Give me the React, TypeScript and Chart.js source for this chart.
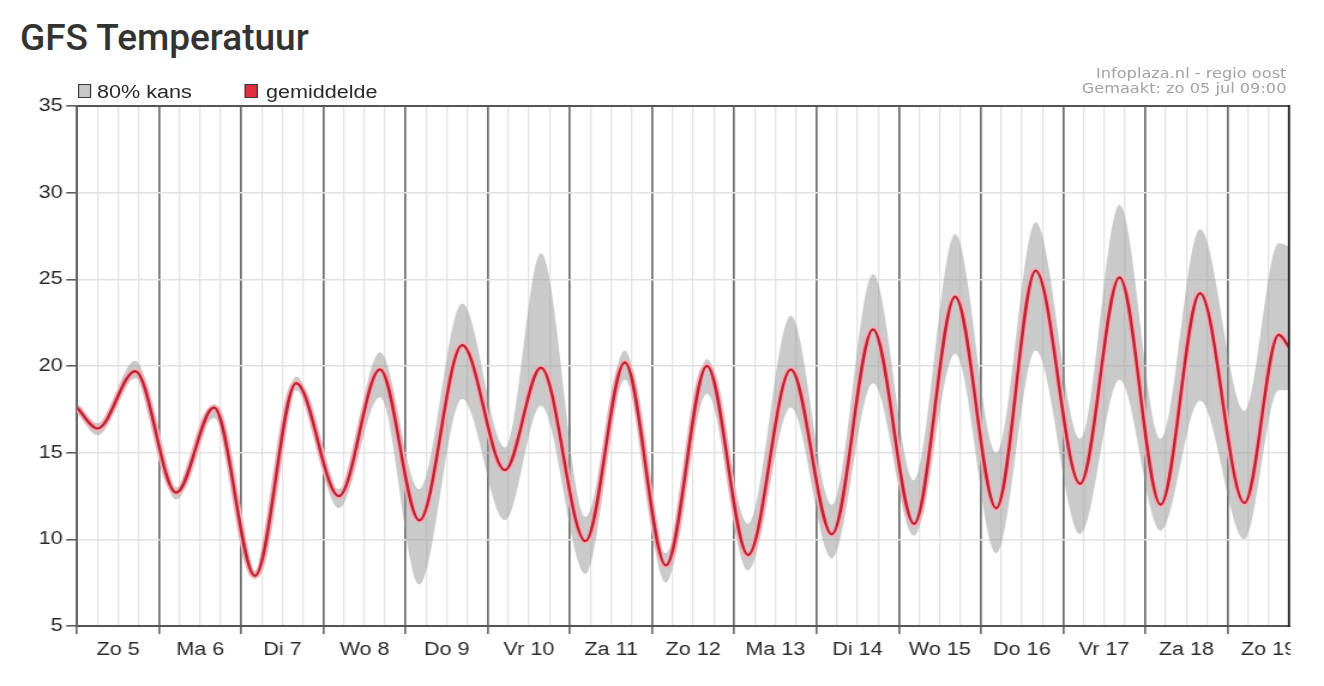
import React, { useEffect, useRef } from "react";
import { Chart, registerables } from "chart.js";

Chart.register(...registerables);

// hours since Sunday 5 July 00:00 (turning points of the mean curve)
const hours = [0, 6, 17, 29, 40, 52, 64, 76.5, 88.5, 100, 112.5, 125, 135.5, 148.5, 160, 172, 184, 196, 208.5, 220.5, 232.5, 244.5, 256.5, 268.5, 280, 293, 304.5, 316.5, 328, 341, 351, 354];

const meanTemp = [17.6, 16.4, 19.7, 12.7, 17.6, 7.9, 19.0, 12.5, 19.8, 11.1, 21.2, 14.0, 19.9, 9.9, 20.2, 8.5, 20.0, 9.1, 19.8, 10.3, 22.1, 10.9, 24.0, 11.8, 25.5, 13.2, 25.1, 12.0, 24.2, 12.1, 21.8, 21.1];

const upper80 = [17.9, 16.7, 20.3, 13.0, 17.8, 8.2, 19.4, 12.9, 20.8, 12.9, 23.6, 15.3, 26.5, 11.3, 20.9, 9.2, 20.4, 10.9, 22.9, 12.0, 25.3, 13.4, 27.6, 15.0, 28.3, 15.8, 29.3, 15.8, 27.9, 17.4, 27.1, 26.9];

const lower80 = [17.3, 16.0, 19.3, 12.3, 17.0, 7.7, 18.6, 11.8, 18.2, 7.4, 18.1, 11.1, 17.7, 8.0, 19.2, 7.5, 18.4, 8.2, 17.6, 8.9, 19.0, 10.2, 20.7, 9.2, 20.9, 10.3, 19.2, 10.5, 18.0, 10.0, 18.6, 18.6];

const dayLabels = ["Zo 5", "Ma 6", "Di 7", "Wo 8", "Do 9", "Vr 10", "Za 11", "Zo 12", "Ma 13", "Di 14", "Wo 15", "Do 16", "Vr 17", "Za 18", "Zo 19"];

const yTicks = [5, 10, 15, 20, 25, 30, 35];

const X_MAX = 354;
const STRETCH = 1324 / 1104;

const toPoints = (vals: number[]) => hours.map((h, i) => ({ x: h, y: vals[i] }));

const isDay = (v: number) => Math.abs(v % 24) < 1e-6;

export default function App() {
  const canvasRef = useRef<HTMLCanvasElement | null>(null);

  useEffect(() => {
    const canvas = canvasRef.current;
    if (!canvas) return;

    const framePlugin = {
      id: "frame",
      afterDraw(chart: any) {
        const { ctx, chartArea } = chart;
        const { left, right, top, bottom } = chartArea;
        ctx.save();
        ctx.strokeStyle = "#555555";
        ctx.lineWidth = 2;
        ctx.beginPath();
        ctx.moveTo(left - 1, top);
        ctx.lineTo(right, top);
        ctx.stroke();
        ctx.strokeStyle = "#1e1e1e";
        ctx.lineWidth = 1.8;
        ctx.beginPath();
        ctx.moveTo(right, top - 1);
        ctx.lineTo(right, bottom + 1);
        ctx.stroke();
        ctx.fillStyle = "#ffffff";
        ctx.fillRect(right + 1.4, bottom + 9, chart.width - right, chart.height - bottom);
        ctx.restore();
      },
    };

    const chart = new Chart(canvas, {
      type: "line",
      data: {
        datasets: [
          {
            label: "gemiddelde",
            data: toPoints(meanTemp),
            borderColor: "#bd2536",
            borderWidth: 2.5,
            fill: false,
          },
          {
            label: "gemiddelde-rand",
            data: toPoints(meanTemp),
            borderColor: "#f5b0b7",
            borderWidth: 6,
            fill: false,
          },
          {
            label: "80% kans",
            data: toPoints(upper80),
            borderColor: "rgba(0,0,0,0)",
            borderWidth: 0,
            backgroundColor: "rgba(150,150,150,0.5)",
            fill: "+1",
          },
          {
            label: "80% kans onder",
            data: toPoints(lower80),
            borderColor: "rgba(0,0,0,0)",
            borderWidth: 0,
            fill: false,
          },
        ],
      },
      options: {
        animation: false,
        responsive: false,
        events: [],
        elements: {
          line: { cubicInterpolationMode: "monotone" },
          point: { radius: 0, hoverRadius: 0 },
        },
        layout: { padding: { top: 46, right: 29.2, left: 0, bottom: 0 } },
        plugins: {
          legend: { display: false },
          tooltip: { enabled: false },
          title: { display: false },
        },
        scales: {
          x: {
            type: "linear",
            min: 0,
            max: X_MAX,
            afterBuildTicks: (scale: any) => {
              const t = [];
              for (let v = 0; v < X_MAX; v += 6) t.push({ value: v });
              scale.ticks = t;
            },
            afterFit: (scale: any) => {
              scale.height = 60;
            },
            grid: {
              color: (c: any) => (c.tick && isDay(c.tick.value) ? "#6e6e6e" : "#e3e3e3"),
              lineWidth: (c: any) => (c.tick && isDay(c.tick.value) ? 1.7 : 1.3),
              tickLength: 8,
              tickColor: (c: any) => (c.tick && isDay(c.tick.value) ? "#6e6e6e" : "rgba(0,0,0,0)"),
              tickWidth: 1.7,
            },
            border: { display: true, color: "#555555", width: 2 },
            ticks: {
              autoSkip: false,
              maxRotation: 0,
              minRotation: 0,
              padding: 5,
              color: "#2a2a2a",
              font: { family: '"Liberation Sans", Arial, sans-serif', size: 18 },
              callback: (value: any) => {
                const v = Number(value);
                if (Math.abs((v - 12) % 24) < 1e-6) {
                  const idx = Math.round((v - 12) / 24);
                  return dayLabels[idx] ?? "";
                }
                return "";
              },
            },
          },
          y: {
            type: "linear",
            min: yTicks[0],
            max: yTicks[yTicks.length - 1],
            afterBuildTicks: (scale: any) => {
              scale.ticks = yTicks.map((v) => ({ value: v }));
            },
            afterFit: (scale: any) => {
              scale.width = 64.2;
            },
            grid: {
              color: "#e2e2e2",
              lineWidth: 1.6,
              tickLength: 9,
              tickColor: "#555555",
              tickWidth: 1.5,
            },
            border: { display: true, color: "#666666", width: 2 },
            ticks: {
              padding: 3,
              color: "#2a2a2a",
              font: { family: '"Liberation Sans", Arial, sans-serif', size: 18 },
            },
          },
        },
      },
      plugins: [framePlugin],
    } as any);

    return () => {
      chart.destroy();
    };
  }, []);

  const legendText: React.CSSProperties = {
    position: "absolute",
    top: 22.8,
    fontFamily: '"Liberation Sans", Arial, sans-serif',
    fontSize: 18,
    lineHeight: "18px",
    color: "#2a2a2a",
    whiteSpace: "nowrap",
  };
  const legendBox: React.CSSProperties = {
    position: "absolute",
    top: 24,
    width: 11,
    height: 14,
    boxSizing: "border-box",
    border: "1.5px solid #3a3a3a",
  };
  const creditText: React.CSSProperties = {
    fontFamily: '"DejaVu Sans", Verdana, sans-serif',
    fontSize: 13.5,
    lineHeight: "15px",
    color: "#a3a3a3",
    whiteSpace: "nowrap",
    textAlign: "right",
  };

  return (
    <div
      style={{
        position: "absolute",
        left: 0,
        top: 0,
        width: 1324,
        height: 686,
        overflow: "hidden",
        background: "#ffffff",
      }}
    >
      <div
        style={{
          position: "absolute",
          left: 20,
          top: 18.9,
          fontFamily: "Roboto, 'Noto Sans', sans-serif",
          fontWeight: 500,
          fontSize: 37,
          lineHeight: "37px",
          color: "#333333",
          whiteSpace: "nowrap",
        }}
      >
        GFS Temperatuur
      </div>
      <div
        style={{
          position: "absolute",
          left: 0,
          top: 60,
          width: 1104,
          height: 626,
          transform: `scaleX(${STRETCH})`,
          transformOrigin: "0 0",
        }}
      >
        <canvas ref={canvasRef} width={1104} height={626} style={{ display: "block", width: 1104, height: 626 }} />
        <div style={{ ...legendBox, left: 65, background: "#c8c8c8" }} />
        <div style={{ ...legendText, left: 80.9 }}>80% kans</div>
        <div style={{ ...legendBox, left: 203.5, background: "#e0303f" }} />
        <div style={{ ...legendText, left: 221.8 }}>gemiddelde</div>
        <div style={{ position: "absolute", right: 31.3, top: 6.1 }}>
          <div style={creditText}>Infoplaza.nl - regio oost</div>
          <div style={creditText}>Gemaakt: zo 05 jul 09:00</div>
        </div>
      </div>
    </div>
  );
}
